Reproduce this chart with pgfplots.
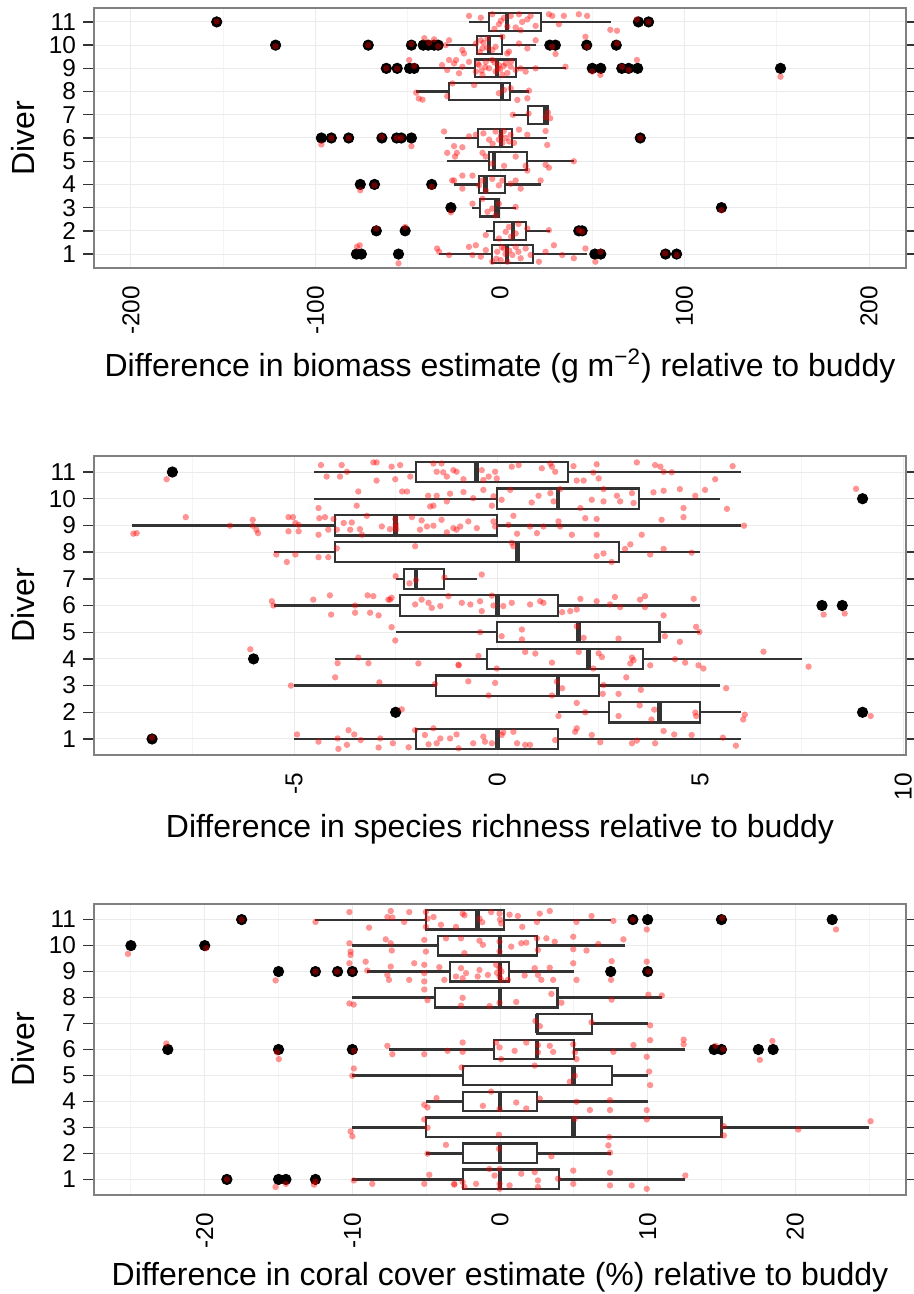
\documentclass[border=0pt]{standalone}
\usepackage{fontspec}
\setmainfont{Liberation Sans}
\usepackage{pgfplots}
\pgfplotsset{compat=1.18}
\usepgfplotslibrary{statistics}
\definecolor{boxc}{HTML}{333333}
\definecolor{gridmaj}{HTML}{EBEBEB}
\definecolor{gridmin}{HTML}{F4F4F4}
\definecolor{framec}{HTML}{808080}
\pgfplotsset{
  divstyle/.style={
    scale only axis, width=406pt,
    ymin=0.4, ymax=11.6,
    ytick={1,2,3,4,5,6,7,8,9,10,11},
    yticklabels={1,2,3,4,5,6,7,8,9,10,11},
    tick align=outside, major tick length=5.5pt, minor tick length=0pt,
    ytick style={draw=boxc, line width=0.7pt},
    xtick style={draw=none},
    xmajorgrids, xminorgrids, ymajorgrids,
    major grid style={draw=gridmaj, line width=0.5pt},
    minor grid style={draw=gridmin, line width=0.5pt},
    axis line style={draw=framec, line width=0.7pt},
    tick label style={font=\fontsize{12.2}{14}\selectfont, text=black},
    xticklabel style={rotate=90, anchor=east},
    label style={font=\fontsize{16}{19}\selectfont},
    ylabel={Diver},
    /pgf/number format/assume math mode=true,
    clip=true,
    boxplot/draw direction=x,
    boxplot/box extend=0.76,
    boxplot/whisker extend=0,
    boxplot/every box/.style={draw=boxc, fill=white, line width=1.1pt},
    boxplot/every whisker/.style={draw=boxc, line width=1.1pt},
    boxplot/every median/.style={draw=boxc, line width=2.4pt},
  },
  outl/.style={only marks, mark=*, mark size=2.6pt, color=black, mark options={solid, draw=black, fill=black}},
  jit/.style={only marks, mark=*, mark size=1.6pt, color=red, draw opacity=0, fill opacity=0.42,
    mark options={solid, draw=red, draw opacity=0, fill=red, fill opacity=0.42}},
}
\begin{document}
\begin{tikzpicture}
\path[use as bounding box] (0,0) rectangle (457pt,-647pt);
% ---------------- Panel 1: biomass ----------------
\begin{axis}[divstyle, at={(47pt,-4pt)}, anchor=north west, height=130pt,
  xmin=-220, xmax=220, xtick={-200,-100,0,100,200}, xticklabels={-200,-100,0,100,200},
  minor xtick={-150,-50,50,150},
  xlabel={Difference in biomass estimate (g m\textsuperscript{−2}) relative to buddy}]
\addplot[boxplot prepared={draw position=1, lower whisker=-33, lower quartile=-4.3, median=3.8, upper quartile=17.8, upper whisker=47}] coordinates {};
\addplot[boxplot prepared={draw position=2, lower whisker=-7.6, lower quartile=-3.2, median=7, upper quartile=14, upper whisker=27}] coordinates {};
\addplot[boxplot prepared={draw position=3, lower whisker=-15, lower quartile=-10.8, median=-1.7, upper quartile=-0.5, upper whisker=8.6}] coordinates {};
\addplot[boxplot prepared={draw position=4, lower whisker=-24.9, lower quartile=-11.4, median=-8, upper quartile=2.7, upper whisker=22}] coordinates {};
\addplot[boxplot prepared={draw position=5, lower whisker=-28.6, lower quartile=-6, median=-3.2, upper quartile=14.6, upper whisker=40}] coordinates {};
\addplot[boxplot prepared={draw position=6, lower whisker=-30, lower quartile=-11.9, median=0.5, upper quartile=6.5, upper whisker=25.4}] coordinates {};
\addplot[boxplot prepared={draw position=7, lower whisker=7, lower quartile=15.1, median=24.7, upper quartile=26, upper whisker=26.5}] coordinates {};
\addplot[boxplot prepared={draw position=8, lower whisker=-45.4, lower quartile=-27.6, median=1.1, upper quartile=5.4, upper whisker=15.7}] coordinates {};
\addplot[boxplot prepared={draw position=9, lower whisker=-44, lower quartile=-13.5, median=-1.6, upper quartile=8.6, upper whisker=35.7}] coordinates {};
\addplot[boxplot prepared={draw position=10, lower whisker=-29, lower quartile=-12.4, median=-6, upper quartile=1, upper whisker=19.5}] coordinates {};
\addplot[boxplot prepared={draw position=11, lower whisker=-17, lower quartile=-6, median=3.8, upper quartile=22, upper whisker=60}] coordinates {};
\addplot[outl] table[row sep=\\] {x y\\
-153.5 11\\ 75 11\\ 80.5 11\\
-121.6 10\\ -71.4 10\\ -48 10\\ -41.6 10\\ -38.9 10\\ -35.7 10\\ -33.5 10\\ 27 10\\ 30 10\\ 47 10\\ 63 10\\
-61.6 9\\ -55.7 9\\ -49 9\\ -46.5 9\\ 50 9\\ 54.6 9\\ 66 9\\ 69.7 9\\ 74.6 9\\ 152 9\\
-96.8 6\\ -91.4 6\\ -82 6\\ -64 6\\ -56 6\\ -53.5 6\\ -48 6\\ 76 6\\
-75.7 4\\ -68 4\\ -37 4\\
-26.6 3\\ 120 3\\
-67 2\\ -51.4 2\\ 42.7 2\\ 44.5 2\\
-77.8 1\\ -75.1 1\\ -55 1\\ 51.4 1\\ 54.6 1\\ 89.7 1\\ 95.7 1\\
};
\addplot[jit] table[row sep=\\] {x y\\
-153.5 11.02\\ -16.8 11.26\\ -10.4 11.18\\ -4.2 11.33\\ -0.6 10.90\\ 2.2 11.18\\ 5.8 11.26\\ 8.5 10.76\\ 10.3 11.33\\ 11.2 10.64\\ 14.8 11.11\\ 16.6 11.26\\ 19.3 10.83\\ 26.5 11.33\\ 28.3 11.26\\ 31.9 10.90\\ 34.6 11.26\\ 42.7 11.33\\ 47.2 11.26\\ 59.8 10.66\\ 63.4 10.62\\ 74.2 11.11\\ 80.5 11.00\\ 0.5 11.05\\ 4 10.8\\ 12 11.0\\ -3 10.7\\
-121.6 9.95\\ -71.4 10.0\\ -48 10.05\\ -41 10.3\\ -38.4 10.1\\ -35.7 10.25\\ -33.5 9.95\\ -29.4 10.0\\ -27.6 10.21\\ -20.4 9.79\\ -19.5 9.64\\ -13.1 10.07\\ -10.4 10.21\\ -9.5 9.86\\ -6.8 10.28\\ -4.2 9.79\\ -2.4 9.93\\ 1.3 10.36\\ 3.9 9.64\\ 4.9 9.72\\ 10.3 10.07\\ 14.8 9.86\\ 19.3 10.21\\ 28.3 9.93\\ 30.1 9.62\\ 46.3 10.36\\ 47.2 9.93\\ 63.4 10.07\\ -9 10.1\\ -7 9.9\\ -11 9.7\\
-61.6 9.0\\ -55.7 8.98\\ -49.2 9.36\\ -46.5 9.1\\ -31.4 9.14\\ -28.6 8.93\\ -27.6 9.36\\ -24.9 9.21\\ -23.8 9.36\\ -22.2 8.79\\ -20.4 9.07\\ -16.8 9.28\\ -13.1 8.86\\ -11.4 9.14\\ -9.5 8.72\\ -7.7 9.28\\ -5.9 9.0\\ -4.2 9.36\\ -2.4 8.86\\ -0.6 9.14\\ 1.3 8.72\\ 3.1 9.21\\ 5.8 9.07\\ 8.5 8.93\\ 11.2 9.0\\ 13.9 8.86\\ 19.3 9.0\\ 35.5 9.07\\ 50 8.86\\ 54.4 8.72\\ 66.1 9.07\\ 69.7 8.93\\ 74.2 9.36\\ 152 8.64\\ -12 9.2\\ -8 9.05\\ -3 9.25\\ 0 8.95\\ 2 9.1\\ 4 8.8\\ 6 9.3\\ -10 8.9\\ -1 9.0\\
-45.4 7.95\\ -44 7.7\\ -42 7.65\\ -28.6 7.8\\ -25.8 8.35\\ -14 8.28\\ -0.6 7.93\\ 2.2 8.07\\ 5.8 8.14\\ 9.4 7.64\\ 14.8 7.71\\ 15.7 8.04\\
7 7.0\\ 15.5 7.05\\ 24.8 6.9\\ 26 7.1\\ 27.2 6.85\\
-96.8 5.72\\ -91.4 6.0\\ -82 6.0\\ -64 6.05\\ -56 6.0\\ -53.5 6.0\\ -48 5.65\\ -30.3 6.28\\ -24.9 5.65\\ -20.4 5.6\\ -16.8 6.07\\ -13.1 6.14\\ -5.9 5.93\\ -2.4 6.28\\ -0.6 5.93\\ 1.3 5.79\\ 3.1 6.0\\ 5.8 6.14\\ 7.6 5.79\\ 10.3 6.36\\ 14.8 6.14\\ 24.7 6.3\\ 25.6 5.7\\ 76 6.0\\ -9 6.2\\ -4 5.75\\ 0.5 6.1\\ 2 6.3\\ 5 5.85\\
-28.6 5.36\\ -24.4 5.2\\ -23.4 5.36\\ -9.5 5.36\\ -7.7 5.2\\ -4.2 4.9\\ 2.2 4.8\\ 8.5 5.2\\ 13.9 4.8\\ 14.8 4.6\\ 24.7 4.85\\ 26.5 4.72\\ 40 5.0\\
-75.7 3.75\\ -68 3.96\\ -37 3.9\\ -25.9 4.17\\ -24.9 4.17\\ -20.4 4.38\\ -20.4 3.82\\ -14.9 4.38\\ -11.4 3.96\\ -9.5 4.17\\ -7.7 3.74\\ -4.2 4.24\\ -0.6 3.96\\ 1.3 4.17\\ 5.8 4.03\\ 8.5 4.17\\ 11.2 3.82\\ 22.0 4.17\\
-26.6 2.8\\ -14.9 3.17\\ -9.5 3.38\\ -6.8 2.82\\ -4.2 2.96\\ -2.4 2.67\\ -0.6 3.17\\ 8.5 3.03\\ 120 2.89\\
-67 2.1\\ -51.4 2.17\\ -7.7 1.82\\ -0.6 1.67\\ 3.1 1.96\\ 4.9 2.17\\ 8.5 1.89\\ 14.8 2.1\\ 26.5 2.03\\ 42.7 2.03\\ 44.5 1.96\\ 10 2.3\\ 6 1.75\\
-77.5 1.31\\ -76 1.38\\ -55 0.6\\ -34.1 1.24\\ -33 1.1\\ -27.6 0.96\\ -16.8 1.31\\ -14.9 0.96\\ -13.1 1.38\\ -10.4 0.89\\ -7.7 1.17\\ -4.2 0.67\\ -1.5 1.1\\ 0.4 0.74\\ 2.2 1.24\\ 4 0.67\\ 6.7 0.96\\ 8.5 1.31\\ 11.2 0.82\\ 13.9 1.24\\ 16.6 0.96\\ 21.1 0.67\\ 24.7 1.1\\ 29.2 1.38\\ 33.7 0.96\\ 40 0.82\\ 46.3 1.24\\ 51.7 0.67\\ 54.4 1.1\\ 89.5 1.03\\ 95.8 0.96\\ 3 1.0\\ 5 1.15\\ -2 0.8\\ 10 1.1\\ 1 1.3\\
};
\end{axis}
% ---------------- Panel 2: species richness ----------------
\begin{axis}[divstyle, at={(47pt,-228pt)}, anchor=north west, height=149.5pt,
  xmin=-9.93, xmax=10.07, xtick={-5,0,5,10}, xticklabels={-5,0,5,10},
  minor xtick={-7.5,-2.5,2.5,7.5},
  xlabel={Difference in species richness relative to buddy}]
\addplot[boxplot prepared={draw position=1, lower whisker=-5, lower quartile=-2, median=0, upper quartile=1.5, upper whisker=6}] coordinates {};
\addplot[boxplot prepared={draw position=2, lower whisker=1.5, lower quartile=2.75, median=4, upper quartile=5, upper whisker=6}] coordinates {};
\addplot[boxplot prepared={draw position=3, lower whisker=-5, lower quartile=-1.5, median=1.5, upper quartile=2.5, upper whisker=5.5}] coordinates {};
\addplot[boxplot prepared={draw position=4, lower whisker=-4, lower quartile=-0.25, median=2.25, upper quartile=3.6, upper whisker=7.5}] coordinates {};
\addplot[boxplot prepared={draw position=5, lower whisker=-2.5, lower quartile=0, median=2, upper quartile=4, upper whisker=5}] coordinates {};
\addplot[boxplot prepared={draw position=6, lower whisker=-5.5, lower quartile=-2.4, median=0, upper quartile=1.5, upper whisker=5}] coordinates {};
\addplot[boxplot prepared={draw position=7, lower whisker=-2.5, lower quartile=-2.3, median=-2, upper quartile=-1.3, upper whisker=-0.5}] coordinates {};
\addplot[boxplot prepared={draw position=8, lower whisker=-5.5, lower quartile=-4, median=0.5, upper quartile=3, upper whisker=5}] coordinates {};
\addplot[boxplot prepared={draw position=9, lower whisker=-9, lower quartile=-4, median=-2.5, upper quartile=0, upper whisker=6}] coordinates {};
\addplot[boxplot prepared={draw position=10, lower whisker=-4.5, lower quartile=0, median=1.5, upper quartile=3.5, upper whisker=5.5}] coordinates {};
\addplot[boxplot prepared={draw position=11, lower whisker=-4.5, lower quartile=-2, median=-0.5, upper quartile=1.75, upper whisker=6}] coordinates {};
\addplot[outl] table[row sep=\\] {x y\\
-8 11\\ 9 10\\ 8 6\\ 8.5 6\\ -6 4\\ -2.5 2\\ 9 2\\ -8.5 1\\
};
\addplot[jit] table[row sep=\\] {x y\\
-8.14 10.73\\ -4.34 11.26\\ -3.83 11.26\\ -4.2 10.83\\ -3.87 10.83\\ -3.7 11.01\\ -3.05 11.36\\ -2.97 11.36\\ -2.97 10.68\\ -2.6 11.2\\ -2.51 10.73\\ -2.39 11.26\\ -2.14 10.83\\ -1.57 11.32\\ -1.49 11.01\\ -1.37 11.32\\ -1.33 10.99\\ -1.24 10.83\\ -1.0 11.01\\ -1.08 11.07\\ -0.83 10.73\\ -0.38 11.07\\ -0.34 10.7\\ -0.21 10.83\\ -0.05 11.01\\ -0.01 10.76\\ 0.36 11.2\\ 0.53 11.26\\ 1.1 11.14\\ 1.31 11.32\\ 1.35 11.2\\ 1.43 11.01\\ 1.88 11.22\\ 1.96 10.68\\ 2.13 10.68\\ 2.37 10.98\\ 2.45 11.29\\ 2.5 10.76\\ 3.44 11.36\\ 3.89 11.26\\ 4.02 11.2\\ 4.1 11.01\\ 4.3 10.99\\ 5.37 10.73\\ 5.8 11.22\\
-3.42 10.27\\ -3.46 9.74\\ -2.34 10.27\\ -2.22 10.27\\ -1.7 10.11\\ -1.57 9.74\\ -1.49 10.11\\ -1.24 9.9\\ -1.16 10.19\\ -1.65 9.71\\ -0.83 10.25\\ -0.59 10.02\\ -0.34 10.33\\ -0.13 9.74\\ -0.09 10.09\\ 0.11 9.96\\ 0.32 10.33\\ 0.85 9.86\\ 1.02 10.11\\ 1.31 10.21\\ 1.39 9.9\\ 1.55 10.36\\ 2.05 9.65\\ 2.33 9.96\\ 2.62 9.9\\ 2.62 10.36\\ 2.95 10.11\\ 3.03 9.9\\ 3.32 10.21\\ 3.36 9.84\\ 3.85 10.24\\ 4.1 10.3\\ 4.5 10.36\\ 4.59 9.65\\ 4.88 10.11\\ 5.12 10.33\\ 5.66 9.62\\ 8.84 10.37\\
-8.96 8.69\\ -8.88 8.71\\ -7.67 9.31\\ -6.58 8.99\\ -6.02 9.21\\ -6.02 8.99\\ -5.93 8.84\\ -5.89 8.71\\ -5.14 9.31\\ -5.14 8.78\\ -5.03 9.31\\ -4.97 9.09\\ -4.89 9.02\\ -4.89 8.78\\ -4.4 9.65\\ -4.4 8.65\\ -4.38 9.27\\ -4.24 9.31\\ -4.03 9.24\\ -4.16 8.84\\ -3.95 8.84\\ -3.78 9.09\\ -3.62 8.84\\ -3.58 9.11\\ -3.38 8.86\\ -3.33 8.65\\ -3.21 9.36\\ -2.84 8.96\\ -2.64 8.86\\ -2.51 9.24\\ -2.49 8.84\\ -2.1 9.31\\ -1.9 8.84\\ -1.86 9.19\\ -1.73 8.96\\ -1.57 8.99\\ -1.37 9.21\\ -1.24 8.74\\ -1.0 8.84\\ -1.08 8.9\\ -0.91 8.96\\ -0.71 9.15\\ -0.5 8.9\\ -0.09 9.15\\ -0.05 8.96\\ 0.28 9.02\\ 0.4 9.36\\ 0.49 8.69\\ 0.81 8.96\\ 0.98 8.71\\ 1.14 8.96\\ 1.51 9.15\\ 1.55 8.96\\ 1.84 8.65\\ 2.17 9.27\\ 2.45 9.24\\ 2.45 8.65\\ 3.56 8.65\\ 4.05 9.21\\ 4.59 9.31\\ 6.08 8.99\\ -2.5 9.05\\ -2.5 8.95\\
-5.44 7.91\\ -5.18 7.63\\ -4.97 7.91\\ -4.4 7.81\\ -4.16 7.81\\ -3.95 8.14\\ -2.02 8.22\\ 0.36 8.35\\ 0.4 8.22\\ 2.45 7.85\\ 2.62 7.95\\ 2.82 7.63\\ 3.15 8.12\\ 3.28 8.29\\ 3.77 7.91\\ 4.1 8.12\\ 4.79 7.98\\
-2.16 6.83\\ -0.38 7.16\\ -2.5 7.1\\ -2 6.95\\ -1.3 7.05\\
-5.55 6.16\\ -5.51 6.0\\ -4.53 6.22\\ -4.12 6.38\\ -4.09 5.66\\ -3.5 6.0\\ -3.5 5.73\\ -3.19 6.38\\ -3.13 5.73\\ -3.05 6.35\\ -2.92 5.63\\ -2.68 6.22\\ -2.64 6.22\\ -2.6 6.29\\ -2.02 6.04\\ -1.86 6.22\\ -1.69 6.1\\ -1.61 5.91\\ -1.4 5.98\\ -1.2 6.35\\ -0.87 6.1\\ -0.66 6.04\\ -0.42 6.16\\ -0.38 5.79\\ -0.13 6.37\\ -0.09 6.0\\ 0.15 5.98\\ 0.36 6.1\\ 0.81 6.04\\ 1.06 6.16\\ 1.14 6.1\\ 1.6 5.75\\ 1.8 5.79\\ 1.96 5.85\\ 2.05 6.25\\ 2.45 6.16\\ 2.78 6.04\\ 2.9 6.32\\ 3.03 5.94\\ 3.52 6.22\\ 3.64 6.35\\ 3.64 5.94\\ 4.1 5.63\\ 4.84 6.25\\ 8.04 5.66\\ 8.56 5.7\\
-2.6 5.19\\ -2.51 4.69\\ -0.42 5.0\\ 0.61 5.1\\ 0.61 4.73\\ 0.11 4.85\\ 1.96 5.22\\ 2.13 4.79\\ 2.99 4.76\\ 4.13 4.85\\ 4.5 4.64\\ 4.9 5.2\\ 4.98 5.01\\
-6.08 4.36\\ -3.93 3.84\\ -3.42 4.05\\ -3.17 3.84\\ -1.94 3.83\\ -0.95 3.78\\ -0.95 3.76\\ -0.46 4.11\\ -0.01 3.64\\ 0.69 4.26\\ 0.94 4.2\\ 1.35 3.86\\ 2.01 4.26\\ 2.5 4.21\\ 2.58 4.07\\ 2.37 3.64\\ 3.32 4.05\\ 3.28 3.83\\ 3.36 3.95\\ 3.77 3.76\\ 4.38 3.99\\ 4.63 3.86\\ 4.96 3.76\\ 5.08 3.64\\ 6.56 4.27\\ 7.67 3.71\\
-5.08 3.0\\ -3.99 3.31\\ -2.9 3.12\\ -1.53 3.06\\ -0.71 3.16\\ -0.21 2.63\\ -0.05 3.1\\ 1.35 2.63\\ 1.47 3.15\\ 1.6 2.9\\ 2.62 3.02\\ 2.6 2.69\\ 2.99 2.69\\ 3.18 3.31\\ 3.54 2.84\\ 5.64 2.9\\
-2.35 2.11\\ 1.51 1.86\\ 1.96 2.35\\ 2.17 2.0\\ 2.99 1.86\\ 3.51 2.26\\ 3.8 1.73\\ 3.87 2.1\\ 4.88 1.99\\ 4.9 1.86\\ 6.1 1.91\\ 6.06 1.73\\ 9.2 1.86\\
-8.5 1.05\\ -4.93 1.17\\ -4.4 0.9\\ -3.93 1.02\\ -3.91 0.63\\ -3.7 0.78\\ -3.66 1.33\\ -3.52 1.17\\ -3.36 0.96\\ -2.92 0.68\\ -2.88 1.02\\ -2.57 0.84\\ -2.18 0.69\\ -2.02 1.33\\ -1.78 1.15\\ -1.69 0.8\\ -1.57 1.4\\ -1.49 0.84\\ -1.4 1.02\\ -1.16 1.02\\ -0.95 0.65\\ -1.0 1.17\\ -0.59 0.84\\ -0.34 1.09\\ -0.3 0.9\\ -0.13 0.84\\ 0.11 1.15\\ 0.15 1.25\\ 0.4 1.27\\ 0.49 0.84\\ 0.69 0.78\\ 0.81 0.78\\ 1.43 0.96\\ 1.92 1.27\\ 1.96 1.4\\ 2.33 1.15\\ 2.54 0.88\\ 3.32 0.84\\ 3.44 0.94\\ 3.89 0.84\\ 4.1 1.3\\ 4.36 1.17\\ 4.79 1.15\\ 5.56 1.05\\ 5.88 0.75\\
};
\end{axis}
% ---------------- Panel 3: coral cover ----------------
\begin{axis}[divstyle, at={(47pt,-452pt)}, anchor=north west, height=145.5pt,
  xmin=-27.5, xmax=27.5, xtick={-20,-10,0,10,20}, xticklabels={-20,-10,0,10,20},
  minor xtick={-25,-15,-5,5,15,25},
  xlabel={Difference in coral cover estimate (\%) relative to buddy}]
\addplot[boxplot prepared={draw position=1, lower whisker=-10, lower quartile=-2.5, median=0, upper quartile=4, upper whisker=12.5}] coordinates {};
\addplot[boxplot prepared={draw position=2, lower whisker=-5, lower quartile=-2.5, median=0, upper quartile=2.5, upper whisker=7.5}] coordinates {};
\addplot[boxplot prepared={draw position=3, lower whisker=-10, lower quartile=-5, median=5, upper quartile=15, upper whisker=25}] coordinates {};
\addplot[boxplot prepared={draw position=4, lower whisker=-5, lower quartile=-2.5, median=0, upper quartile=2.5, upper whisker=10}] coordinates {};
\addplot[boxplot prepared={draw position=5, lower whisker=-10, lower quartile=-2.5, median=5, upper quartile=7.6, upper whisker=10}] coordinates {};
\addplot[boxplot prepared={draw position=6, lower whisker=-7.5, lower quartile=-0.4, median=2.5, upper quartile=5, upper whisker=12.5}] coordinates {};
\addplot[boxplot prepared={draw position=7, lower whisker=2.5, lower quartile=2.5, median=2.5, upper quartile=6.25, upper whisker=10}] coordinates {};
\addplot[boxplot prepared={draw position=8, lower whisker=-10, lower quartile=-4.4, median=0, upper quartile=3.9, upper whisker=11}] coordinates {};
\addplot[boxplot prepared={draw position=9, lower whisker=-9, lower quartile=-3.4, median=0, upper quartile=0.6, upper whisker=5}] coordinates {};
\addplot[boxplot prepared={draw position=10, lower whisker=-10, lower quartile=-4.2, median=0, upper quartile=2.5, upper whisker=8.5}] coordinates {};
\addplot[boxplot prepared={draw position=11, lower whisker=-12.5, lower quartile=-5, median=-1.5, upper quartile=0.25, upper whisker=7.5}] coordinates {};
\addplot[outl] table[row sep=\\] {x y\\
-17.5 11\\ 9 11\\ 10 11\\ 15 11\\ 22.5 11\\
-25 10\\ -20 10\\
-15 9\\ -12.5 9\\ -11 9\\ -10 9\\ 7.5 9\\ 10 9\\
-22.5 6\\ -15 6\\ -10 6\\ 14.5 6\\ 15 6\\ 17.5 6\\ 18.5 6\\
-18.5 1\\ -15 1\\ -14.5 1\\ -12.5 1\\
};
\addplot[jit] table[row sep=\\] {x y\\
-17.5 11.0\\ -12.5 10.91\\ -10.2 11.29\\ -8.87 10.69\\ -7.63 11.1\\ -7.4 11.33\\ -7.29 11.08\\ -6.49 10.91\\ -6.15 11.29\\ -5.02 11.29\\ -5.02 10.72\\ -4.91 11.04\\ -2.98 10.72\\ -2.53 11.23\\ -2.41 11.17\\ -1.39 11.04\\ -0.6 11.29\\ -0.03 11.23\\ 0.08 10.85\\ 0.65 11.19\\ 1.21 11.14\\ 1.51 10.72\\ 2.5 10.91\\ 2.69 11.23\\ 3.37 11.33\\ 5.18 10.91\\ 6.2 11.14\\ 7.68 10.95\\ 9.0 11.0\\ 9.94 10.62\\ 15.05 11.06\\ 22.76 10.62\\ -4.5 11.1\\ -4 10.8\\ -1.2 10.9\\ 0 11.0\\
-25.2 9.68\\ -19.9 9.9\\ -10.2 10.09\\ -10.12 9.77\\ -10.12 9.64\\ -7.74 10.24\\ -7.4 10.09\\ -7.33 9.81\\ -5.13 10.22\\ -5.02 9.77\\ -3.66 10.28\\ -2.64 10.28\\ -2.41 9.71\\ -1.39 10.19\\ -1.16 10.03\\ -0.03 9.77\\ -0.03 10.15\\ 0.76 9.96\\ 1.44 10.09\\ 1.78 10.11\\ 2.5 10.28\\ 2.57 9.83\\ 3.14 10.28\\ 3.71 10.15\\ 4.96 10.34\\ 4.96 9.86\\ 5.86 9.81\\ 6.66 10.06\\ 8.36 10.24\\
-15.2 8.66\\ -12.5 9.0\\ -11.03 9.0\\ -10.0 9.0\\ -10.2 9.32\\ -9.1 9.38\\ -8.99 9.04\\ -7.63 8.87\\ -7.52 8.68\\ -7.4 9.19\\ -6.15 8.68\\ -5.81 9.32\\ -5.13 9.26\\ -5.13 8.94\\ -5.13 8.62\\ -4.11 9.17\\ -3.77 8.68\\ -2.98 8.81\\ -2.64 9.13\\ -2.53 8.74\\ -2.3 8.94\\ -1.51 8.81\\ -1.39 9.06\\ -0.82 8.87\\ -0.26 9.26\\ -0.03 9.13\\ -0.03 8.81\\ 0.08 8.68\\ 0.54 8.68\\ 1.67 8.85\\ 2.35 9.13\\ 2.57 8.87\\ 2.8 8.68\\ 3.37 9.15\\ 3.6 8.68\\ 4.96 9.32\\ 5.18 8.68\\ 7.52 8.68\\ 7.56 9.4\\ 9.94 9.38\\ 10.05 9.0\\ 0.1 9.0\\ -0.2 8.95\\
-10.2 7.77\\ -9.91 7.73\\ -5.13 8.31\\ -4.91 7.9\\ -2.53 7.99\\ -2.64 7.69\\ -0.71 7.67\\ -0.03 7.8\\ 1.1 7.83\\ 3.48 8.14\\ 4.16 7.8\\ 7.56 7.92\\ 10.05 8.11\\ 10.96 8.08\\
2.4 7.1\\ 2.7 6.9\\ 6.2 7.05\\ 10.17 6.93\\
-22.6 6.23\\ -15.1 5.89\\ -14.98 5.63\\ -9.9 5.95\\ -7.63 6.14\\ -7.29 5.82\\ -5.13 5.82\\ -3.55 5.95\\ -2.53 6.27\\ -2.53 5.91\\ -0.26 6.27\\ -0.03 6.08\\ 0.08 5.63\\ 0.99 5.95\\ 1.78 6.27\\ 2.57 6.17\\ 2.57 5.89\\ 3.37 6.14\\ 3.6 5.91\\ 4.96 6.2\\ 5.07 5.89\\ 5.18 5.63\\ 7.68 5.91\\ 9.04 6.17\\ 9.94 5.72\\ 10.17 6.36\\ 12.44 6.38\\ 12.44 6.2\\ 14.6 6.14\\ 15.12 6.01\\ 17.6 5.6\\ 18.45 6.33\\
-9.9 5.27\\ -10.0 4.99\\ -2.6 5.31\\ 2.35 5.38\\ 4.73 4.76\\ 5.07 4.99\\ 10.1 5.15\\ 10.17 4.63\\
-5.13 3.87\\ -4.91 3.77\\ -4.3 4.13\\ -1.16 3.83\\ -0.6 4.38\\ -0.03 3.71\\ 1.1 3.96\\ 1.78 3.73\\ 2.69 4.11\\ 5.18 3.99\\ 6.09 3.67\\ 7.45 4.05\\ 7.45 3.67\\ 9.94 3.67\\
-10.12 2.85\\ -10.0 2.66\\ -5.13 3.31\\ -4.91 2.99\\ -0.07 2.72\\ 5.07 3.33\\ 7.4 2.63\\ 9.94 3.31\\ 15.16 3.05\\ 15.16 2.69\\ 20.2 2.92\\ 25.1 3.24\\
-4.91 1.99\\ -3.66 2.33\\ -0.07 2.18\\ 3.48 1.89\\ 7.34 2.31\\ 7.45 2.03\\
-18.5 1.0\\ -15.2 0.71\\ -14.5 0.83\\ -12.6 0.8\\ -12.5 0.92\\ -9.9 0.96\\ -8.65 0.83\\ -5.13 0.83\\ -4.79 1.18\\ -3.1 0.83\\ -3.1 0.8\\ -2.53 0.9\\ -2.41 0.71\\ -1.62 0.83\\ -0.72 1.4\\ -0.37 1.15\\ -0.03 1.4\\ -0.03 0.83\\ -0.03 0.64\\ 0.65 0.77\\ 1.44 1.22\\ 2.35 1.28\\ 2.57 0.96\\ 2.57 0.71\\ 3.93 1.03\\ 4.96 1.34\\ 4.96 0.83\\ 7.45 1.26\\ 7.45 0.77\\ 8.92 0.77\\ 9.94 0.64\\ 12.55 1.15\\
};
\end{axis}
\end{tikzpicture}
\end{document}
